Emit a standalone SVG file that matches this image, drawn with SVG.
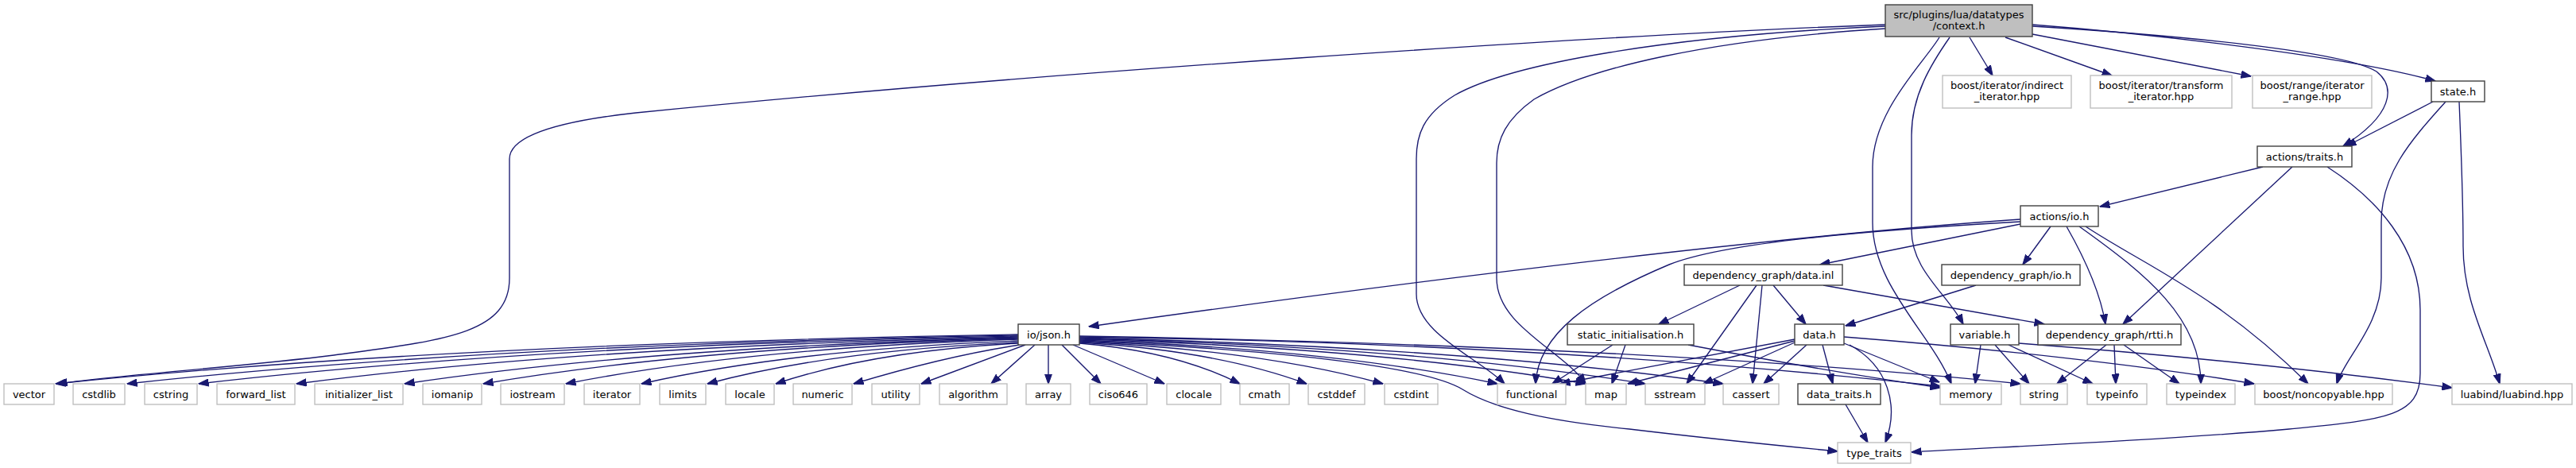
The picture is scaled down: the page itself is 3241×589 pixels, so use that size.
<svg xmlns="http://www.w3.org/2000/svg" width="3241" height="589" viewBox="0 0 3241 589">
<defs>
<style>
text{font-family:"DejaVu Sans","Liberation Sans",sans-serif;font-size:13px;text-anchor:middle;fill:#000}
.root rect{fill:#bfbfbf;stroke:#404040;stroke-width:1.4}
.doc rect{fill:#fff;stroke:#404040;stroke-width:1.4}
.ext rect{fill:#fff;stroke:#bfbfbf;stroke-width:1.4}
#edges path{fill:none;stroke:#191970;stroke-width:1.35;marker-end:url(#arr)}
</style>
<marker id="arr" markerUnits="userSpaceOnUse" viewBox="0 0 13 10" refX="12.5" refY="5" markerWidth="13" markerHeight="10" orient="auto">
<path d="M0,0.4 L13,5 L0,9.6 z" fill="#191970" stroke="#191970" stroke-width="1"/>
</marker>
</defs>
<rect width="3241" height="589" fill="#fff"/>
<g id="edges">
<path d="M2372,31 C2000,45 1300,92 800,142 C700,153 641,172 641,200 L641,350 C641,420 560,428 420,447 C300,462 150,472 72,483"/>
<path d="M2372,33 C2100,45 1900,80 1830,120 C1790,145 1782,170 1782,200 L1782,370 C1782,420 1860,450 1893,483"/>
<path d="M2372,36 C2150,50 2000,85 1930,125 C1895,150 1883,175 1883,205 L1883,350 C1883,410 1965,440 1995,483"/>
<path d="M2478,47 L2507,95"/>
<path d="M2523,47 L2657,95"/>
<path d="M2557,43 L2832,96"/>
<path d="M2557,31 C2700,42 2950,70 3064,102"/>
<path d="M2557,33 C2750,45 2950,65 2990,90 C3015,110 3010,145 2948,184"/>
<path d="M2440,47 C2420,80 2356,140 2356,210 L2356,280 C2356,360 2430,420 2455,483"/>
<path d="M2453,47 C2430,80 2405,120 2405,170 L2405,290 C2405,340 2450,370 2470,408"/>
<path d="M3061,128 L2952,184"/>
<path d="M3077,128 C3030,180 2996,220 2996,280 L2996,350 C2996,410 2950,450 2940,483"/>
<path d="M3094,128 C3097,200 3099,250 3099,310 C3099,380 3130,430 3145,483"/>
<path d="M2847,210 L2642,260"/>
<path d="M2884,210 L2671,408"/>
<path d="M2928,210 C2990,250 3045,310 3045,390 L3045,470 C3045,525 3000,528 2880,540 C2700,556 2500,563 2405,569"/>
<path d="M2542,276 C2250,296 1800,350 1370,411"/>
<path d="M2542,282 L2290,333"/>
<path d="M2542,279 C2350,290 2170,305 2100,333 C2000,375 1935,420 1932,483"/>
<path d="M2580,285 L2545,333"/>
<path d="M2600,285 C2620,320 2642,365 2649,408"/>
<path d="M2616,285 C2700,345 2769,400 2769,483"/>
<path d="M2624,285 C2700,335 2790,370 2904,483"/>
<path d="M2189,359 L2087,408"/>
<path d="M2210,359 L2122,483"/>
<path d="M2217,359 L2205,483"/>
<path d="M2231,359 L2272,408"/>
<path d="M2294,359 L2572,408"/>
<path d="M2486,359 L2322,410"/>
<path d="M2029,434 L1953,483"/>
<path d="M2045,434 L2028,483"/>
<path d="M2124,434 C2250,458 2350,475 2441,488"/>
<path d="M2258,427 L1963,483"/>
<path d="M2258,429 L2048,483"/>
<path d="M2258,431 L2143,483"/>
<path d="M2273,434 L2219,483"/>
<path d="M2293,434 L2306,483"/>
<path d="M2327,434 C2375,460 2390,510 2372,557"/>
<path d="M2320,432 L2440,481"/>
<path d="M2320,424 C2500,438 2700,460 2836,483"/>
<path d="M2492,434 L2485,483"/>
<path d="M2510,434 L2553,483"/>
<path d="M2527,434 L2633,483"/>
<path d="M2540,432 C2750,448 2950,470 3085,488"/>
<path d="M2650,434 L2588,483"/>
<path d="M2660,434 L2662,483"/>
<path d="M2672,434 L2742,483"/>
<path d="M2322,509 L2350,557"/>
<path d="M1281,421 Q554,433 70,483"/>
<path d="M1281,422 Q608,434 160,483"/>
<path d="M1281,423 Q662,435 250,483"/>
<path d="M1281,424 Q736,436 373,483"/>
<path d="M1281,425 Q818,437 509,483"/>
<path d="M1281,426 Q877,437 608,483"/>
<path d="M1281,427 Q940,438 712,483"/>
<path d="M1281,429 Q997,440 807,483"/>
<path d="M1281,431 Q1046,441 890,483"/>
<path d="M1281,432 Q1098,442 976,483"/>
<path d="M1283,434 Q1190,448 1074,483"/>
<path d="M1290,434 L1159,483"/>
<path d="M1302,434 L1247,483"/>
<path d="M1319,434 L1319,483"/>
<path d="M1336,434 L1385,483"/>
<path d="M1350,434 L1465,483"/>
<path d="M1358,432 Q1479,442 1560,483"/>
<path d="M1358,431 Q1530,441 1644,483"/>
<path d="M1358,430 Q1587,441 1740,483"/>
<path d="M1358,428 Q1674,439 1884,483"/>
<path d="M1358,427 Q1740,438 1995,483"/>
<path d="M1358,426 Q1785,437 2070,483"/>
<path d="M1358,425 Q1844,437 2168,483"/>
<path d="M1358,424 Q1950,432 2441,486"/>
<path d="M1358,423 Q2068,435 2542,483"/>
<path d="M1358,429 C1600,440 1790,460 1840,490 C1880,515 1950,530 2050,540 C2150,552 2250,562 2312,568"/>
</g>
<g id="n_context" class="root"><rect x="2372" y="6" width="185" height="40"/><text x="2464.5" y="22.7">src/plugins/lua/datatypes</text><text x="2464.5" y="36.7">/context.h</text></g>
<g id="n_indirect" class="ext"><rect x="2444" y="95" width="162" height="41"/><text x="2525" y="111.7">boost/iterator/indirect</text><text x="2525" y="125.7">_iterator.hpp</text></g>
<g id="n_transform" class="ext"><rect x="2630" y="95" width="178" height="41"/><text x="2719" y="111.7">boost/iterator/transform</text><text x="2719" y="125.7">_iterator.hpp</text></g>
<g id="n_range" class="ext"><rect x="2834" y="95" width="150" height="41"/><text x="2909" y="111.7">boost/range/iterator</text><text x="2909" y="125.7">_range.hpp</text></g>
<g id="n_state" class="doc"><rect x="3059" y="102" width="67" height="26"/><text x="3092.5" y="119.7">state.h</text></g>
<g id="n_traits" class="doc"><rect x="2840" y="184" width="119" height="26"/><text x="2899.5" y="201.7">actions/traits.h</text></g>
<g id="n_actio" class="doc"><rect x="2542" y="259" width="98" height="26"/><text x="2591" y="276.7">actions/io.h</text></g>
<g id="n_datainl" class="doc"><rect x="2119" y="333" width="199" height="26"/><text x="2218.5" y="350.7">dependency_graph/data.inl</text></g>
<g id="n_dgio" class="doc"><rect x="2443" y="333" width="174" height="26"/><text x="2530" y="350.7">dependency_graph/io.h</text></g>
<g id="n_json" class="doc"><rect x="1281" y="408" width="77" height="26"/><text x="1319.5" y="425.7">io/json.h</text></g>
<g id="n_static" class="doc"><rect x="1972" y="408" width="159" height="26"/><text x="2051.5" y="425.7">static_initialisation.h</text></g>
<g id="n_datah" class="doc"><rect x="2258" y="408" width="62" height="26"/><text x="2289" y="425.7">data.h</text></g>
<g id="n_variable" class="doc"><rect x="2454" y="408" width="86" height="26"/><text x="2497" y="425.7">variable.h</text></g>
<g id="n_rtti" class="doc"><rect x="2564" y="408" width="180" height="26"/><text x="2654" y="425.7">dependency_graph/rtti.h</text></g>
<g id="n_vector" class="ext"><rect x="5" y="483" width="63" height="26"/><text x="36.5" y="500.7">vector</text></g>
<g id="n_cstdlib" class="ext"><rect x="92" y="483" width="65" height="26"/><text x="124.5" y="500.7">cstdlib</text></g>
<g id="n_cstring" class="ext"><rect x="182" y="483" width="66" height="26"/><text x="215" y="500.7">cstring</text></g>
<g id="n_forward_list" class="ext"><rect x="273" y="483" width="98" height="26"/><text x="322" y="500.7">forward_list</text></g>
<g id="n_initializer_list" class="ext"><rect x="396" y="483" width="111" height="26"/><text x="451.5" y="500.7">initializer_list</text></g>
<g id="n_iomanip" class="ext"><rect x="532" y="483" width="74" height="26"/><text x="569" y="500.7">iomanip</text></g>
<g id="n_iostream" class="ext"><rect x="630" y="483" width="80" height="26"/><text x="670" y="500.7">iostream</text></g>
<g id="n_iterator" class="ext"><rect x="735" y="483" width="70" height="26"/><text x="770" y="500.7">iterator</text></g>
<g id="n_limits" class="ext"><rect x="830" y="483" width="58" height="26"/><text x="859" y="500.7">limits</text></g>
<g id="n_locale" class="ext"><rect x="913" y="483" width="61" height="26"/><text x="943.5" y="500.7">locale</text></g>
<g id="n_numeric" class="ext"><rect x="998" y="483" width="74" height="26"/><text x="1035" y="500.7">numeric</text></g>
<g id="n_utility" class="ext"><rect x="1097" y="483" width="60" height="26"/><text x="1127" y="500.7">utility</text></g>
<g id="n_algorithm" class="ext"><rect x="1182" y="483" width="85" height="26"/><text x="1224.5" y="500.7">algorithm</text></g>
<g id="n_array" class="ext"><rect x="1291" y="483" width="56" height="26"/><text x="1319" y="500.7">array</text></g>
<g id="n_ciso646" class="ext"><rect x="1371" y="483" width="72" height="26"/><text x="1407" y="500.7">ciso646</text></g>
<g id="n_clocale" class="ext"><rect x="1468" y="483" width="68" height="26"/><text x="1502" y="500.7">clocale</text></g>
<g id="n_cmath" class="ext"><rect x="1560" y="483" width="62" height="26"/><text x="1591" y="500.7">cmath</text></g>
<g id="n_cstddef" class="ext"><rect x="1646" y="483" width="71" height="26"/><text x="1681.5" y="500.7">cstddef</text></g>
<g id="n_cstdint" class="ext"><rect x="1742" y="483" width="67" height="26"/><text x="1775.5" y="500.7">cstdint</text></g>
<g id="n_functional" class="ext"><rect x="1884" y="483" width="86" height="26"/><text x="1927" y="500.7">functional</text></g>
<g id="n_map" class="ext"><rect x="1995" y="483" width="51" height="26"/><text x="2020.5" y="500.7">map</text></g>
<g id="n_sstream" class="ext"><rect x="2070" y="483" width="75" height="26"/><text x="2107.5" y="500.7">sstream</text></g>
<g id="n_cassert" class="ext"><rect x="2168" y="483" width="70" height="26"/><text x="2203" y="500.7">cassert</text></g>
<g id="n_data_traits" class="doc"><rect x="2262" y="483" width="104" height="26"/><text x="2314" y="500.7">data_traits.h</text></g>
<g id="n_memory" class="ext"><rect x="2441" y="483" width="77" height="26"/><text x="2479.5" y="500.7">memory</text></g>
<g id="n_string" class="ext"><rect x="2542" y="483" width="59" height="26"/><text x="2571.5" y="500.7">string</text></g>
<g id="n_typeinfo" class="ext"><rect x="2626" y="483" width="75" height="26"/><text x="2663.5" y="500.7">typeinfo</text></g>
<g id="n_typeindex" class="ext"><rect x="2726" y="483" width="86" height="26"/><text x="2769" y="500.7">typeindex</text></g>
<g id="n_noncopyable" class="ext"><rect x="2837" y="483" width="173" height="26"/><text x="2923.5" y="500.7">boost/noncopyable.hpp</text></g>
<g id="n_luabind" class="ext"><rect x="3085" y="483" width="151" height="26"/><text x="3160.5" y="500.7">luabind/luabind.hpp</text></g>
<g id="n_type_traits" class="ext"><rect x="2312" y="557" width="92" height="26"/><text x="2358" y="574.7">type_traits</text></g>
</svg>
